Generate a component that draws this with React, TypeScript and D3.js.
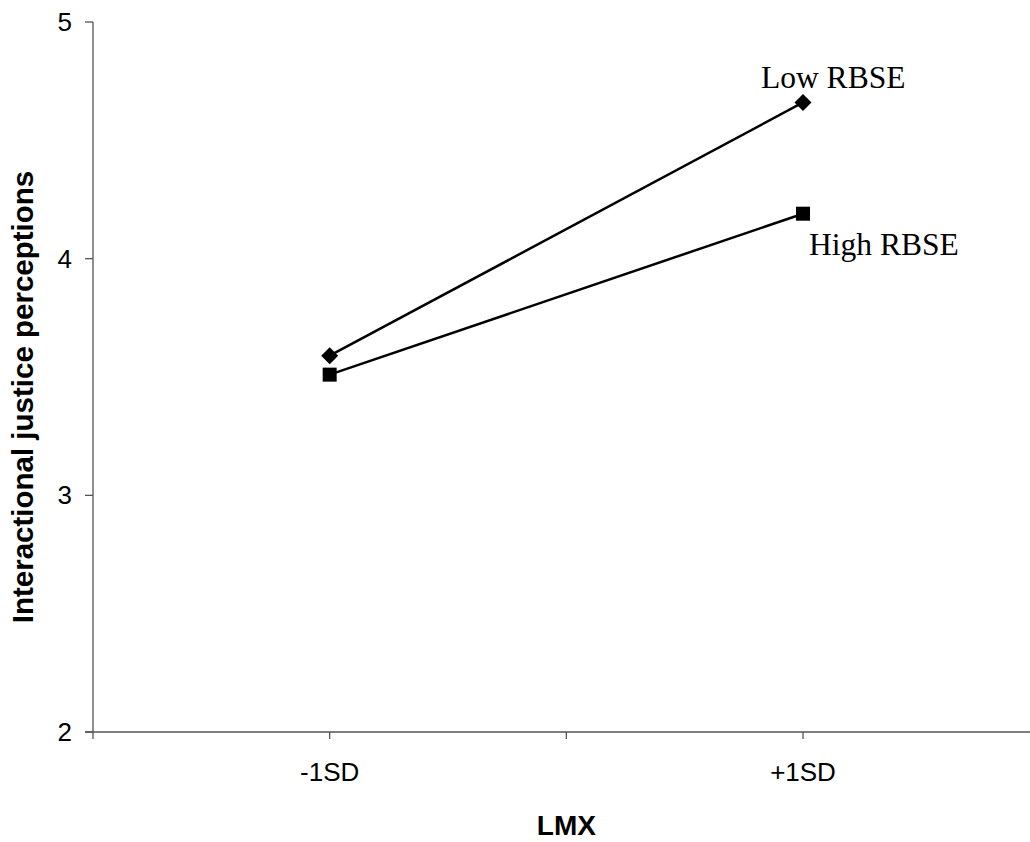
import React from "react";
import * as d3 from "d3";

const categories = ["-1SD", "+1SD"];
const categoryIndex = [1, 3];
const xTickIndex = [0, 1, 2, 3, 4];
const lowRBSE = [3.59, 4.66];
const highRBSE = [3.51, 4.19];
const yTicks = [2, 3, 4, 5];

const W = 1030;
const H = 842;

export default function App() {
  const x = d3.scaleLinear().domain([0, 4]).range([93, 93 + 4 * 236.67]);
  const y = d3.scaleLinear().domain([2, 5]).range([732, 22]);
  const line = d3
    .line<number>()
    .x((_, i) => x(categoryIndex[i]))
    .y((d) => y(d));
  const axisColor = "#555";
  const sans = "'Liberation Sans', Arial, sans-serif";
  const serif = "'Liberation Serif', 'Times New Roman', serif";

  return (
    <svg
      width={W}
      height={H}
      style={{ position: "absolute", left: 0, top: 0, background: "#fff" }}
    >
      {/* y axis */}
      <line x1={x(0)} x2={x(0)} y1={y(5)} y2={y(2)} stroke={axisColor} strokeWidth={1.3} />
      {yTicks.map((t) => (
        <g key={t}>
          <line x1={x(0) - 8} x2={x(0)} y1={y(t)} y2={y(t)} stroke={axisColor} strokeWidth={1.3} />
          <text
            x={72}
            y={y(t) + 9}
            textAnchor="end"
            fontFamily={sans}
            fontSize={26}
            fill="#000"
          >
            {t}
          </text>
        </g>
      ))}
      {/* x axis */}
      <line x1={x(0) - 8} x2={W} y1={y(2)} y2={y(2)} stroke={axisColor} strokeWidth={1.3} />
      {xTickIndex.map((t) => (
        <line key={t} x1={x(t)} x2={x(t)} y1={y(2)} y2={y(2) + 7} stroke={axisColor} strokeWidth={1.3} />
      ))}
      {categories.map((c, i) => (
        <text
          key={c}
          x={x(categoryIndex[i])}
          y={781}
          textAnchor="middle"
          fontFamily={sans}
          fontSize={26}
          fill="#000"
        >
          {c}
        </text>
      ))}
      {/* axis titles */}
      <text
        x={x(2)}
        y={835}
        textAnchor="middle"
        fontFamily={sans}
        fontSize={28}
        fontWeight="bold"
        fill="#000"
      >
        LMX
      </text>
      <text
        transform={`translate(33,397) rotate(-90)`}
        textAnchor="middle"
        fontFamily={sans}
        fontSize={29.5}
        fontWeight="bold"
        fill="#000"
      >
        Interactional justice perceptions
      </text>
      {/* series */}
      <path d={line(lowRBSE) || ""} fill="none" stroke="#000" strokeWidth={2.5} />
      <path d={line(highRBSE) || ""} fill="none" stroke="#000" strokeWidth={2.5} />
      {lowRBSE.map((v, i) => (
        <rect
          key={"l" + i}
          x={-6}
          y={-6}
          width={12}
          height={12}
          fill="#000"
          transform={`translate(${x(categoryIndex[i])},${y(v)}) rotate(45)`}
        />
      ))}
      {highRBSE.map((v, i) => (
        <rect
          key={"h" + i}
          x={x(categoryIndex[i]) - 7}
          y={y(v) - 7}
          width={14}
          height={14}
          fill="#000"
        />
      ))}
      {/* series labels */}
      <text x={761} y={88} fontFamily={serif} fontSize={31.5} fill="#000">
        Low RBSE
      </text>
      <text x={809} y={255} fontFamily={serif} fontSize={31.5} fill="#000">
        High RBSE
      </text>
    </svg>
  );
}
